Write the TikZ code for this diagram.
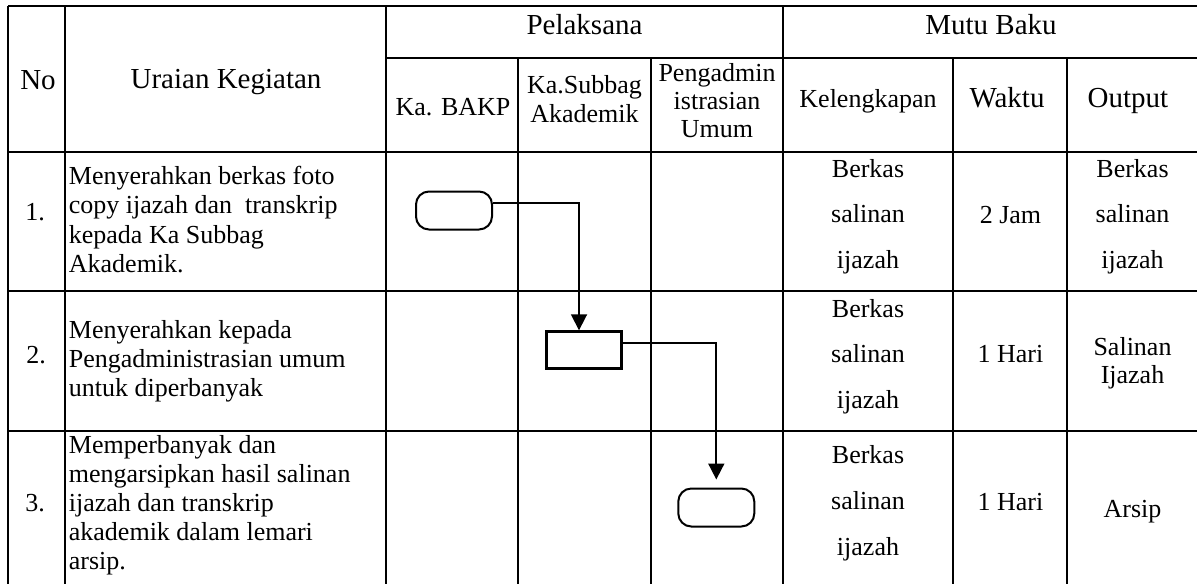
\documentclass[tikz,border=0pt]{standalone}
\usepackage{fontspec}
\setmainfont{Liberation Serif}
\usetikzlibrary{arrows.meta}
\newcommand\mycstack[2]{\vtop{\baselineskip=#1\relax\halign{\hfil##\hfil\cr#2\crcr}}}
\newcommand\mylstack[2]{\vtop{\baselineskip=#1\relax\halign{##\hfil\cr#2\crcr}}}
\tikzset{
  tline/.style={line width=0.75pt},
  big/.style={font=\fontsize{14.5}{17}\selectfont},
  txt/.style={font=\fontsize{13}{15}\selectfont},
  lbl/.style={inner sep=0pt, anchor=base},
  lbll/.style={inner sep=0pt, anchor=base west},
  term/.style={draw, line width=1pt, rounded corners=6.5pt, minimum width=38pt, minimum height=19pt, inner sep=0pt},
  proc/.style={draw, line width=1.2pt, minimum width=37.5pt, minimum height=18.5pt, inner sep=0pt},
  flow/.style={line width=0.9pt, -{Triangle[length=8pt,width=8pt]}},
}
\begin{document}
\begin{tikzpicture}[x=0.5pt,y=-0.5pt]
\useasboundingbox (0,0) rectangle (1197,583);
% table grid
\draw[tline] (8,6) -- (1200,6);
\draw[tline] (386,58) -- (1200,58);
\draw[tline] (8,152) -- (1200,152);
\draw[tline] (8,291) -- (1200,291);
\draw[tline] (8,431) -- (1200,431);
\draw[tline] (8,6) -- (8,590);
\draw[tline] (65,6) -- (65,590);
\draw[tline] (386,6) -- (386,590);
\draw[tline] (783,6) -- (783,590);
\draw[tline] (518,58) -- (518,590);
\draw[tline] (651,58) -- (651,590);
\draw[tline] (953,58) -- (953,590);
\draw[tline] (1067,58) -- (1067,590);
% header
\node[lbl,big] (hno) at (38,90) {No};
\node[lbl,big] (hur) at (226,89) {Uraian Kegiatan};
\node[lbl,big] (hpel) at (584.5,35) {Pelaksana};
\node[lbl,big] (hmutu) at (991,35) {Mutu Baku};
\node[lbl,txt] (hbakp) at (453,115) {Ka. BAKP};
\node[lbl,txt] (hsub) at (584.5,93) {\mycstack{14.5pt}{Ka.Subbag\cr Akademik}};
\node[lbl,txt] (hpeng) at (717,82) {\mycstack{14pt}{Pengadmin\cr istrasian\cr Umum}};
\node[lbl,txt] (hkel) at (868,107) {Kelengkapan};
\node[lbl,big] (hwak) at (1007,107) {Waktu};
\node[lbl,big] (hout) at (1128,107) {Output};
% row 1
\node[lbll,txt] (n1) at (25,220) {1.};
\node[lbll,txt] (u1) at (68.5,184) {\mylstack{14.75pt}{Menyerahkan berkas foto\cr copy ijazah dan\ \ transkrip\cr kepada Ka Subbag\cr Akademik.}};
\node[lbl,txt] (k1) at (868,177) {\mycstack{22.75pt}{Berkas\cr salinan\cr ijazah}};
\node[lbl,txt] (w1) at (1010.5,223) {2 Jam};
\node[lbl,txt] (o1) at (1132.5,177) {\mycstack{22.75pt}{Berkas\cr salinan\cr ijazah}};
% row 2
\node[lbll,txt] (n2) at (26,363) {2.};
\node[lbll,txt] (u2) at (68.5,338.5) {\mylstack{14.5pt}{Menyerahkan kepada\cr Pengadministrasian umum\cr untuk diperbanyak}};
\node[lbl,txt] (k2) at (868,317) {\mycstack{22.75pt}{Berkas\cr salinan\cr ijazah}};
\node[lbl,txt] (w2) at (1010.5,362) {1 Hari};
\node[lbl,txt] (o2) at (1132.5,355) {\mycstack{14pt}{Salinan\cr Ijazah}};
% row 3
\node[lbll,txt] (n3) at (25,511) {3.};
\node[lbll,txt] (u3) at (68.5,453.5) {\mylstack{14.5pt}{Memperbanyak dan\cr mengarsipkan hasil salinan\cr ijazah dan transkrip\cr akademik dalam lemari\cr arsip.}};
\node[lbl,txt] (k3) at (868,463) {\mycstack{23pt}{Berkas\cr salinan\cr ijazah}};
\node[lbl,txt] (w3) at (1010.5,510) {1 Hari};
\node[lbl,txt] (o3) at (1132.5,517) {Arsip};
% flow shapes
\node[term] (t1) at (454,210.5) {};
\node[proc] (r1) at (584,350) {};
\node[term] (t2) at (716.3,507.5) {};
\draw[flow] ([yshift=3.75pt]t1.east) -| ([xshift=-2.5pt]r1.north);
\draw[flow] ([yshift=3.5pt]r1.east) -| ([yshift=4pt]t2.north);
\end{tikzpicture}
\end{document}
